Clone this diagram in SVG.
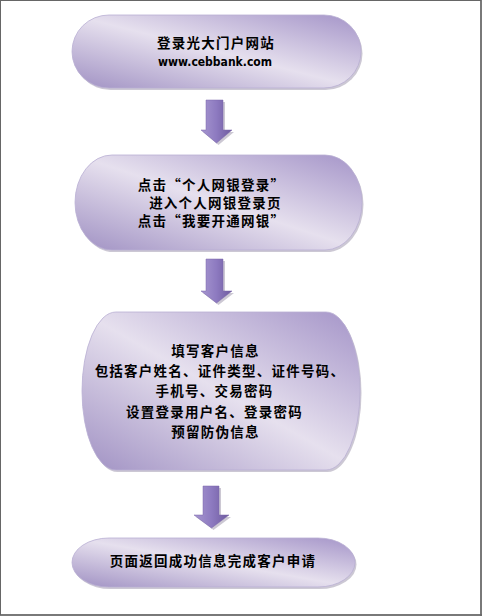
<svg xmlns="http://www.w3.org/2000/svg" width="482" height="616" viewBox="0 0 482 616">
<style>
.node{fill:url(#ng);stroke:#b9aed3;stroke-width:0.8}
.shadow{fill:#8f86a0;opacity:0.45}
.t{font-family:"Noto Sans CJK SC","Noto Sans CJK TC",sans-serif;font-weight:700;font-size:13.5px;letter-spacing:1.25px;fill:#000;text-anchor:middle}
.u{font-family:"DejaVu Sans","Liberation Sans",sans-serif;font-weight:700;font-size:12px;fill:#000;text-anchor:middle}
.arrow{fill:url(#ag);stroke:#7a67aa;stroke-width:0.5}
.ashadow{fill:#6d6180;opacity:0.35}
</style>
<defs>
<linearGradient id="ng" x1="1" y1="0" x2="0" y2="1">
<stop offset="0" stop-color="#a494c8"/>
<stop offset="0.5" stop-color="#e6e0ee"/>
<stop offset="1" stop-color="#a091c3"/>
</linearGradient>
<linearGradient id="ag" x1="0" y1="0" x2="1" y2="0">
<stop offset="0" stop-color="#a797d0"/>
<stop offset="0.5" stop-color="#8d7ac0"/>
<stop offset="1" stop-color="#6e5a9e"/>
</linearGradient>
</defs>
<rect x="0.5" y="0.5" width="480.5" height="614.5" fill="#fff" stroke="#666" stroke-width="1"/>
<line x1="481" y1="0" x2="481" y2="616" stroke="#666" stroke-width="1.5"/>
<line x1="0" y1="615" x2="482" y2="615" stroke="#666" stroke-width="1.5"/>

<g id="connectors">
<path class="ashadow" d="M208,102 H225 V132 H234 L218.5,145 L203,132 H208 Z"/>
<path class="arrow" d="M206,100 H223 V130 H232 L216.5,143 L201,130 H206 Z"/>
<path class="ashadow" d="M208,261 H225 V293 H234 L218.5,305 L203,293 H208 Z"/>
<path class="arrow" d="M206,259 H223 V291 H232 L216.5,303 L201,291 H206 Z"/>
<path class="ashadow" d="M205,488 H221 V517 H231 L213.5,530 L196,517 H205 Z"/>
<path class="arrow" d="M203,486 H219 V515 H229 L211.5,528 L194,515 H203 Z"/>
</g>

<g id="node1">
<rect class="shadow" x="73.5" y="17" width="289" height="73" rx="37" ry="36.5"/>
<rect class="node" x="72" y="15" width="289" height="73" rx="37" ry="36.5"/>
<text class="t" x="216" y="48">登录光大门户网站</text>
<text class="u" x="215" y="66" textLength="114" lengthAdjust="spacingAndGlyphs">www.cebbank.com</text>
</g>

<g id="node2">
<rect class="shadow" x="76.5" y="157" width="287" height="95" rx="37" ry="47.5"/>
<rect class="node" x="75" y="155" width="287" height="95" rx="37" ry="47.5"/>
<text class="t" x="211.5" y="189.5">点击“个人网银登录”</text>
<text class="t" x="215.5" y="207.8">进入个人网银登录页</text>
<text class="t" x="211.5" y="226">点击“我要开通网银”</text>
</g>

<g id="node3">
<rect class="shadow" x="83.5" y="314" width="278" height="158" rx="34" ry="79"/>
<rect class="node" x="82" y="312" width="278" height="158" rx="34" ry="79"/>
<text class="t" x="215.5" y="356">填写客户信息</text>
<text class="t" x="220" y="376">包括客户姓名、证件类型、证件号码、</text>
<text class="t" x="214.5" y="396">手机号、交易密码</text>
<text class="t" x="214.5" y="417">设置登录用户名、登录密码</text>
<text class="t" x="215.5" y="437">预留防伪信息</text>
</g>

<g id="node4">
<rect class="shadow" x="73.5" y="540" width="283" height="49" rx="37" ry="24.5"/>
<rect class="node" x="72" y="538" width="283" height="49" rx="37" ry="24.5"/>
<text class="t" x="213" y="566">页面返回成功信息完成客户申请</text>
</g>
</svg>
